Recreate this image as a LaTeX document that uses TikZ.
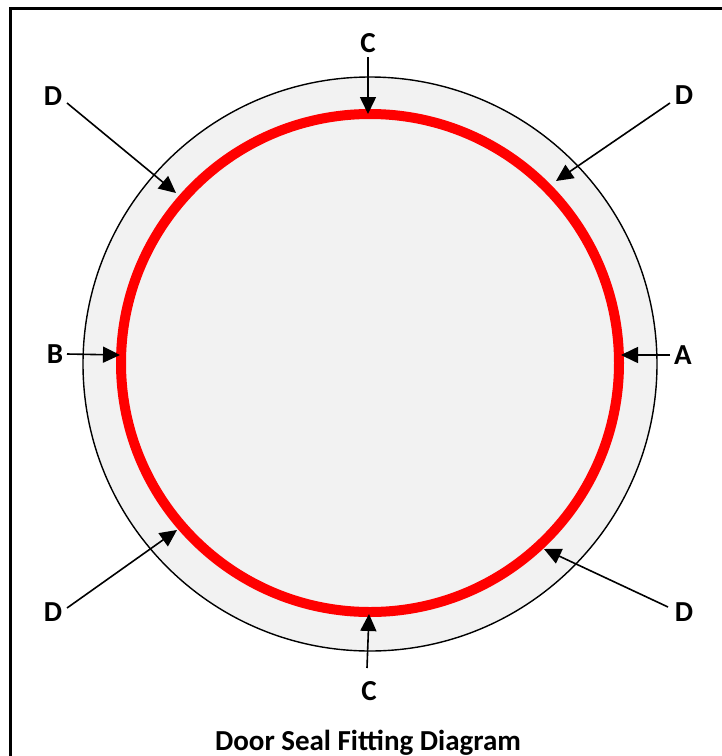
\documentclass[tikz,border=0pt]{standalone}
\usepackage{fontspec}
\setmainfont{Carlito}
\usetikzlibrary{arrows.meta}
\definecolor{ringfill}{HTML}{F2F2F2}
\definecolor{sealred}{HTML}{FF0000}
\tikzset{
  lbl/.style={font=\fontsize{29}{33}\selectfont\bfseries, inner sep=0pt, anchor=center},
  pointer/.style={line width=1.6pt, -{Triangle[length=17pt,width=16pt]}},
}
\begin{document}
\begin{tikzpicture}[x=1pt,y=-1pt]
\useasboundingbox (0,0) rectangle (722,756);
\fill[white] (0,0) rectangle (722,756);
\begin{scope}
\clip (0,0) rectangle (722,756);
\draw[line width=3pt] (10,8) rectangle (760,800);
\end{scope}
% outer disc and ring
\filldraw[fill=ringfill, draw=black, line width=1.4pt] (370,364) circle (287);
\draw[sealred, line width=10pt] (370,363) circle (249);
% tip coordinates
\coordinate (tC1) at (368,114);
\coordinate (tC2) at (369,614);
\coordinate (tB) at (120,355);
\coordinate (tA) at (621,355);
\coordinate (tD1) at (176,193);
\coordinate (tD2) at (556,181);
\coordinate (tD3) at (177,530);
\coordinate (tD4) at (544,549);
% labels
\node[lbl] (C1) at (368,43) {C};
\node[lbl] (C2) at (369,691) {C};
\node[lbl] (B) at (55,354) {B};
\node[lbl] (A) at (683,355) {A};
\node[lbl] (D1) at (53,96) {D};
\node[lbl] (D2) at (684,95) {D};
\node[lbl] (D3) at (53,612) {D};
\node[lbl] (D4) at (684,612) {D};
\node[lbl] (title) at (368,743) {Door Seal Fitting Diagram};
% connectors
\coordinate (sC1) at (368,57);
\coordinate (sC2) at (367,668);
\coordinate (sB) at (67,354);
\coordinate (sA) at (670,355);
\coordinate (sD1) at (67,103);
\coordinate (sD2) at (670,103);
\coordinate (sD3) at (67,608);
\coordinate (sD4) at (668,607);
\draw[pointer] (sC1) -- (tC1);
\draw[pointer] (sC2) -- (tC2);
\draw[pointer] (sB) -- (tB);
\draw[pointer] (sA) -- (tA);
\draw[pointer] (sD1) -- (tD1);
\draw[pointer] (sD2) -- (tD2);
\draw[pointer] (sD3) -- (tD3);
\draw[pointer] (sD4) -- (tD4);
\end{tikzpicture}
\end{document}
